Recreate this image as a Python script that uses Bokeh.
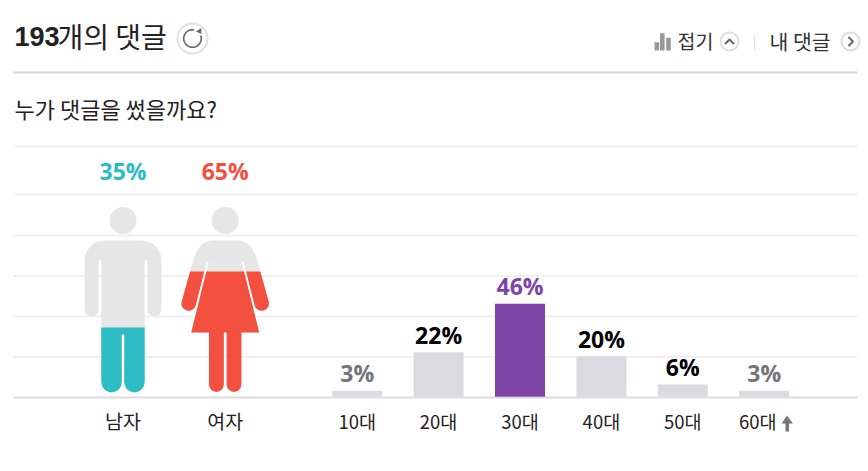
import math
from bokeh.plotting import figure
from bokeh.models import Range1d
from bokeh.core.properties import value
from bokeh.embed import file_html
from bokeh.resources import INLINE

gender_labels = ["남자", "여자"]
gender_values = [35, 65]
gender_texts = ["35%", "65%"]
age_labels = ["10대", "20대", "30대", "40대", "50대", "60대"]
age_values = [3, 22, 46, 20, 6, 3]
age_texts = ["3%", "22%", "46%", "20%", "6%", "3%"]
age_label_colors = ["#757575", "#000000", "#7d44a8", "#000000", "#000000", "#757575"]
age_bar_colors = ["#d8dce0", "#d8dce0", "#7d44a8", "#d8dce0", "#d8dce0", "#d8dce0"]
comment_count = "193"
icon_bars = [8.3, 17.3, 12.7]

CJK = value("Noto Sans CJK KR")
NUM = value("Open Sans")
W = 868
H = 471

p = figure(width=W, height=H, output_backend="svg", toolbar_location=None,
           x_range=Range1d(0, W), y_range=Range1d(H, 0),
           x_axis_type=None, y_axis_type=None, min_border=0,
           outline_line_color=None, background_fill_color="white", border_fill_color="white")
p.grid.visible = False

# value scales for the age bars: 2.02 px per percent, 81.4 px per category
BASE = 396.2
PX = 2.02
CATW = 81.4
CAT0 = 356.7
p.extra_y_ranges = {"pct": Range1d((BASE - H) / PX, BASE / PX)}
p.extra_x_ranges = {"cat": Range1d((0 - CAT0) / CATW, (W - CAT0) / CATW)}


def label(x, y, t, size, color="#222222", font=CJK, style="normal", align="left", **kw):
    p.text([x], [y], text=[t], text_font=font, text_font_size=f"{size}px", text_color=color,
           text_font_style=style, text_align=align, text_baseline="middle", **kw)


# header
label(14, 36, comment_count, 27, "#222222", value("Liberation Sans"), "bold")
label(57, 35, "개의 댓글", 28, "#222222")
p.line([13, 857], [72, 72], line_color="#d8d8d8", line_width=2)
label(14, 107.5, "누가 댓글을 썼을까요?", 22, "#222222")

# refresh button
p.circle([192], [38], radius=15, fill_color="white", line_color="#e0e0e0", line_width=2)
a = [math.radians(d) for d in range(-20, 285, 10)]
p.line([192 + 8.8 * math.cos(t) for t in a], [38 + 8.8 * math.sin(t) for t in a],
       line_color="#666666", line_width=1.6)
p.patch([195.5, 200.8, 200.8], [31, 27.5, 33.5], fill_color="#666666", line_color=None)

# right-hand header controls
for x0, h in zip([654, 659.5, 665.7], icon_bars):
    p.quad(left=x0, right=x0 + 4.6, top=50 - h, bottom=50, fill_color="#999999", line_color=None)
label(677, 40, "접기", 19.5, "#333333")
p.circle([729], [41], radius=9, fill_color="white", line_color="#dddddd", line_width=2)
p.line([724.5, 729, 733.5], [43.5, 39, 43.5], line_color="#666666", line_width=2)
p.line([754, 754], [34, 49], line_color="#e2e2e2", line_width=1)
label(769, 40, "내 댓글", 20.5, "#333333")
p.circle([850], [41], radius=9, fill_color="white", line_color="#dddddd", line_width=2)
p.line([848, 852.5, 848], [36.5, 41, 45.5], line_color="#666666", line_width=2)

# grid
for gy in [146, 194, 235, 275.5, 316, 356.5]:
    p.line([13, 857], [gy, gy], line_color="#f0f0f0", line_width=2)
p.line([13, 857], [397, 397], line_color="#dcdcdc", line_width=2)


def arc(cx, cy, r, a0, a1, n=8):
    return [(cx + r * math.cos(math.radians(a0 + (a1 - a0) * i / n)),
             cy + r * math.sin(math.radians(a0 + (a1 - a0) * i / n))) for i in range(n + 1)]


def clip_below(poly, fy):
    out = []
    for i, (x1, y1) in enumerate(poly):
        x0, y0 = poly[i - 1]
        if (y0 >= fy) != (y1 >= fy):
            t = (fy - y0) / (y1 - y0)
            out.append((x0 + t * (x1 - x0), fy))
        if y1 >= fy:
            out.append((x1, y1))
    return out


def man_half(c):
    pts = [(c, 240), (c + 18, 240)]
    pts += arc(c + 18.4, 260, 20, -90, 0)
    pts += [(c + 38.4, 309)]
    pts += arc(c + 31.4, 309, 7, 0, 180)
    pts += [(c + 24.4, 260), (c + 21.7, 260)]
    pts += [(c + 21.7, 382)]
    pts += arc(c + 11.4, 381.7, 10.2, 0, 180)
    pts += [(c + 1.3, 335)]
    pts += arc(c, 335, 1.3, 0, -90, 3)
    return pts


def woman_half(c):
    pts = [(c, 240), (c + 15, 240)]
    pts += [(c + 22, 243), (c + 27, 248), (c + 30, 254), (c + 32, 260)]
    pts += [(c + 43.5, 301)]
    pts += arc(c + 36.5, 303, 7.3, -15, 165)
    pts += [(c + 18.5, 261.5), (c + 16.5, 261.5), (c + 34, 332), (c + 16.2, 332)]
    pts += [(c + 16.2, 384)]
    pts += arc(c + 8.8, 384, 7.4, 0, 180)
    pts += [(c + 1.4, 332), (c, 332)]
    return pts


def mirror(half, c):
    return half + [(2 * c - x, y) for x, y in reversed(half)]


TOP = 206
BOT = 392
icons = [(122.5, man_half, "#2dbbc4"), (224.7, woman_half, "#f4503f")]
for (c, half, col), v, lab, t in zip(icons, gender_values, gender_labels, gender_texts):
    poly = mirror(half(c), c)
    p.circle([c], [220], radius=13.5, fill_color="#e6e6e6", line_color=None)
    p.patch([q[0] for q in poly], [q[1] for q in poly], fill_color="#e6e6e6", line_color=None)
    fy = BOT - (BOT - TOP) * v / 100
    part = clip_below(poly, fy)
    p.patch([q[0] for q in part], [q[1] for q in part], fill_color=col, line_color=None)
    label(c, 170, t, 23, col, NUM, "bold", "center")
    label(c, 420, lab, 19.5, "#222222", CJK, "normal", "center")

# age bars
idx = list(range(len(age_values)))
p.vbar(x=idx, top=age_values, bottom=0, width=50 / CATW, fill_color=age_bar_colors, line_color=None,
       x_range_name="cat", y_range_name="pct")
for i, v, t, lc, lab in zip(idx, age_values, age_texts, age_label_colors, age_labels):
    p.text([i], [v + 0.8], text=[t], text_font=NUM, text_font_size="23px", text_font_style="bold",
           text_color=lc, text_align="center", text_baseline="bottom",
           x_range_name="cat", y_range_name="pct")
    shift = -6.5 / CATW if i == len(idx) - 1 else 0
    p.text([i + shift], [-12], text=[lab], text_font=CJK, text_font_size="18.5px", text_color="#222222",
           text_align="center", text_baseline="middle", x_range_name="cat", y_range_name="pct")

# arrow after the last age label
p.patch([786.5, 792.5, 788.5, 788.5, 785, 785, 781], [415, 423, 423, 431, 431, 423, 423],
        fill_color="#777777", line_color=None)

open("out.html", "w").write(file_html(p, INLINE))
